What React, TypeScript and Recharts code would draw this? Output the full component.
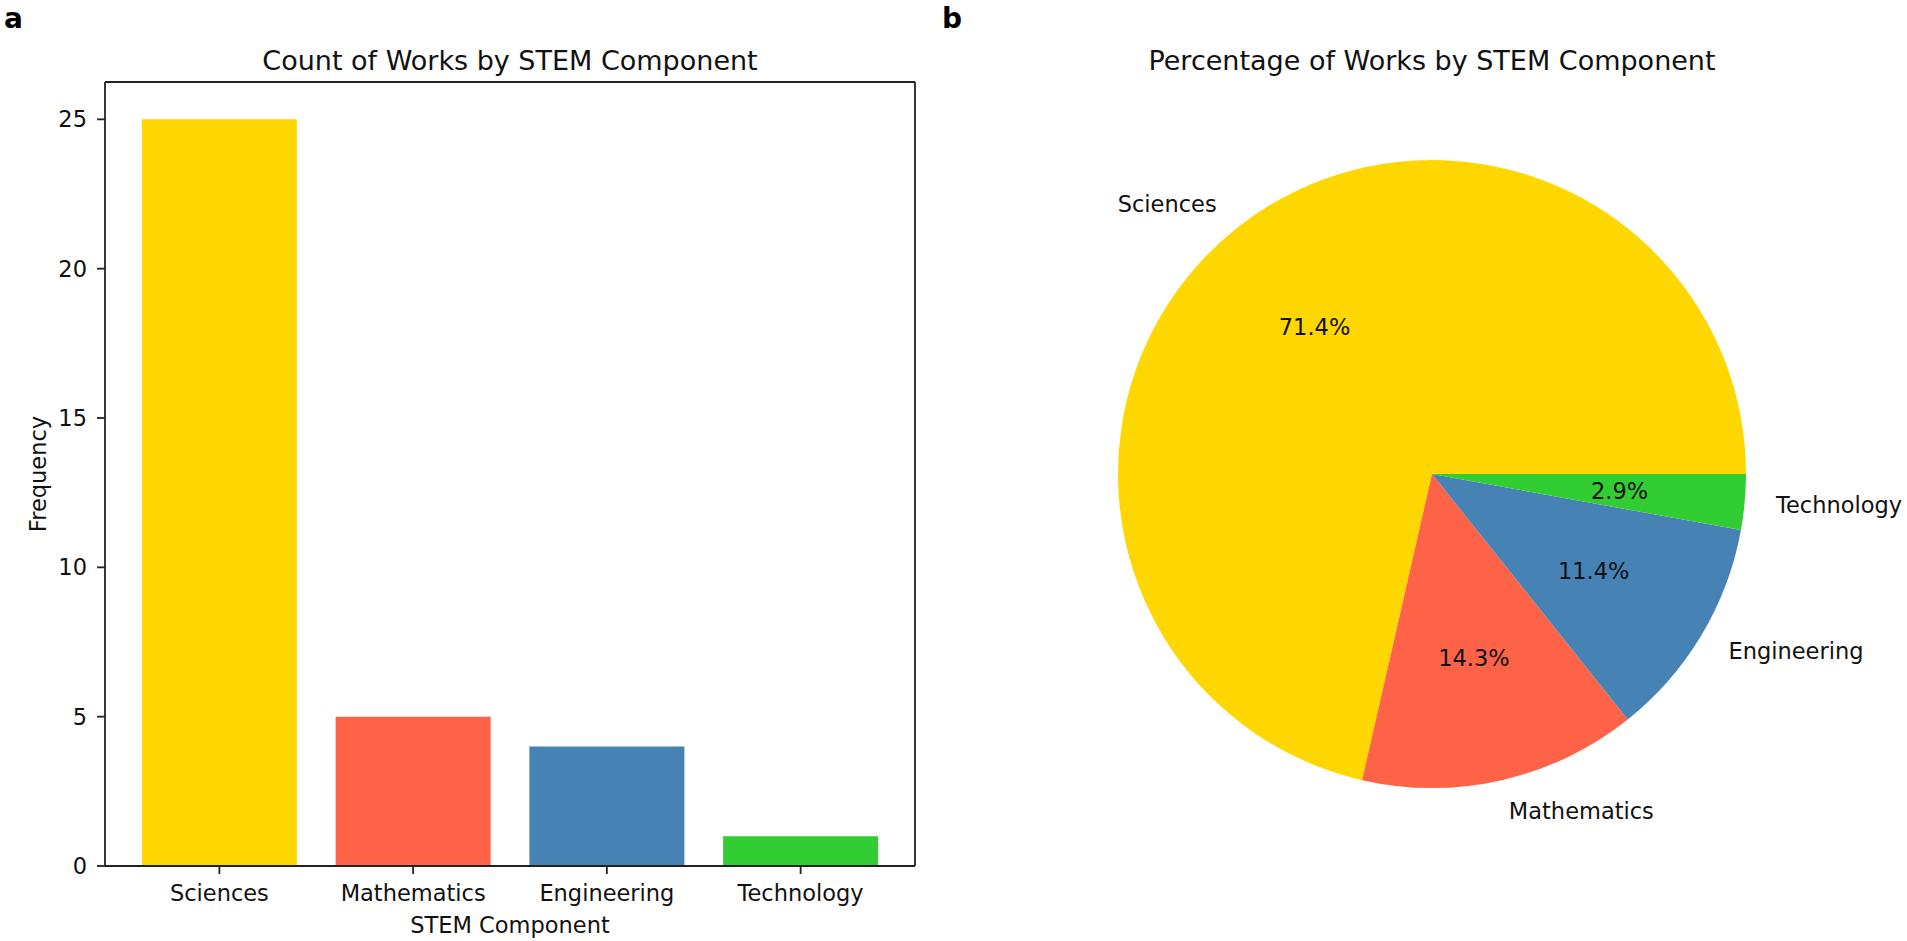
import React from "react";
import { BarChart, Bar, XAxis, YAxis, Cell, PieChart, Pie, CartesianGrid } from "recharts";

const categories = ["Sciences", "Mathematics", "Engineering", "Technology"];
const counts = [25, 5, 4, 1];
const colors = ["#FFD700", "#FF6347", "#4682B4", "#32CD32"];
const yTicks = [0, 5, 10, 15, 20, 25];
const yMax = 26.25;

const rows = categories.map((name, i) => ({ name, value: counts[i] }));

const FONT = "'DejaVu Sans', 'Liberation Sans', sans-serif";
const TICK = 22.5;
const TITLE = 27;
const INK = "#111";
const SPINE = "#222";

const RAD = Math.PI / 180;

function pieLabel(p: any) {
  const { cx, cy, midAngle, outerRadius, percent, name } = p;
  const ox = cx + outerRadius * 1.1 * Math.cos(-midAngle * RAD);
  const oy = cy + outerRadius * 1.1 * Math.sin(-midAngle * RAD);
  const ix = cx + outerRadius * 0.6 * Math.cos(-midAngle * RAD);
  const iy = cy + outerRadius * 0.6 * Math.sin(-midAngle * RAD);
  return (
    <g>
      <text
        x={ox}
        y={oy}
        fill={INK}
        fontSize={TICK}
        textAnchor={ox < cx ? "end" : "start"}
        dominantBaseline="central"
      >
        {name}
      </text>
      <text x={ix} y={iy} fill={INK} fontSize={TICK} textAnchor="middle" dominantBaseline="central">
        {(percent * 100).toFixed(1)}%
      </text>
    </g>
  );
}

export default function App() {
  return (
    <div
      style={{
        position: "absolute",
        left: 0,
        top: 0,
        width: 1907,
        height: 941,
        background: "#fff",
        fontFamily: FONT,
      }}
    >
      <div style={{ position: "absolute", left: 0, top: 0 }}>
        <BarChart
          width={960}
          height={941}
          data={rows}
          margin={{ top: 82, right: 45, bottom: 0, left: 0 }}
          barCategoryGap="10%"
        >
          {/* top and right spines, taken from the plot offset */}
          <CartesianGrid
            stroke={SPINE}
            strokeWidth={1.8}
            fill="none"
            horizontalCoordinatesGenerator={(p: any) => [p.offset.top]}
            verticalCoordinatesGenerator={(p: any) => [p.offset.left + p.offset.width]}
          />
          <XAxis
            dataKey="name"
            height={75}
            padding={{ left: 17.5, right: 17.5 }}
            stroke={SPINE}
            strokeWidth={1.8}
            tickSize={8}
            tickMargin={11}
            tick={{ fill: INK, fontSize: TICK }}
            interval={0}
            label={{
              value: "STEM Component",
              content: (p: any) => {
                const vb = p.viewBox;
                return (
                  <text x={vb.x + vb.width / 2} y={933} textAnchor="middle" fill={INK} fontSize={TICK}>
                    STEM Component
                  </text>
                );
              },
            }}
          />
          <YAxis
            width={105}
            domain={[0, yMax]}
            ticks={yTicks}
            stroke={SPINE}
            strokeWidth={1.8}
            tickSize={8}
            tickMargin={10}
            tick={{ fill: INK, fontSize: TICK }}
            label={{
              value: "Frequency",
              content: (p: any) => {
                const vb = p.viewBox;
                const lx = 38;
                const ly = vb.y + vb.height / 2;
                return (
                  <text
                    x={lx}
                    y={ly}
                    transform={`rotate(-90, ${lx}, ${ly})`}
                    textAnchor="middle"
                    dominantBaseline="central"
                    fill={INK}
                    fontSize={TICK}
                  >
                    Frequency
                  </text>
                );
              },
            }}
          />
          <Bar dataKey="value" isAnimationActive={false}>
            {rows.map((r, i) => (
              <Cell key={r.name} fill={colors[i]} />
            ))}
          </Bar>
        </BarChart>
      </div>

      <div style={{ position: "absolute", left: 960, top: 0 }}>
        <PieChart width={947} height={941} margin={{ top: 0, right: 0, bottom: 0, left: 0 }}>
          <Pie
            data={rows}
            dataKey="value"
            nameKey="name"
            cx={472}
            cy={474}
            outerRadius={314}
            startAngle={0}
            endAngle={360}
            stroke="none"
            labelLine={false}
            label={pieLabel}
            isAnimationActive={false}
          >
            {rows.map((r, i) => (
              <Cell key={r.name} fill={colors[i]} />
            ))}
          </Pie>
        </PieChart>
      </div>

      <svg
        width={1907}
        height={941}
        style={{ position: "absolute", left: 0, top: 0, pointerEvents: "none" }}
      >
        <text x={4} y={28} fontSize={28} fontWeight="bold" fill="#000">
          a
        </text>
        <text x={942} y={28} fontSize={28} fontWeight="bold" fill="#000">
          b
        </text>
        <text x={510} y={70} fontSize={TITLE} textAnchor="middle" fill={INK}>
          Count of Works by STEM Component
        </text>
        <text x={1432} y={70} fontSize={TITLE} textAnchor="middle" fill={INK}>
          Percentage of Works by STEM Component
        </text>
      </svg>
    </div>
  );
}
